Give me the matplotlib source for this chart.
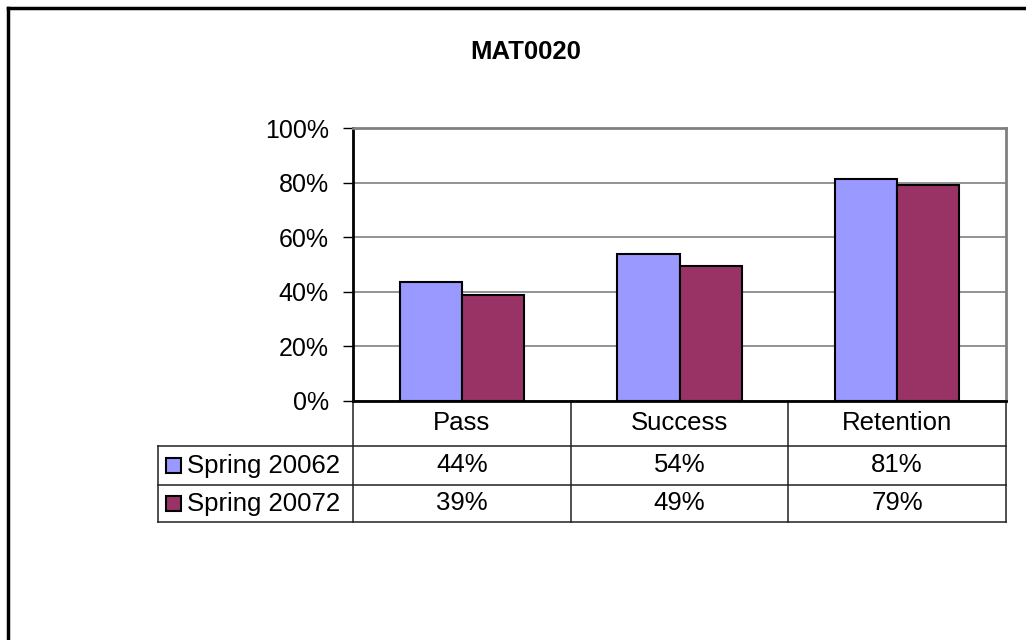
import matplotlib
matplotlib.use('Agg')
import matplotlib.pyplot as plt
from matplotlib.lines import Line2D
from matplotlib.patches import Rectangle
import numpy as np

plt.rcParams['font.family'] = ['Liberation Sans', 'DejaVu Sans']

title = 'MAT0020'
categories = ['Pass', 'Success', 'Retention']
series_names = ['Spring 20062', 'Spring 20072']
spring_20062 = [0.436, 0.538, 0.813]
spring_20072 = [0.388, 0.494, 0.791]
table_20062 = ['44%', '54%', '81%']
table_20072 = ['39%', '49%', '79%']
colors = ['#9999FF', '#993366']

W, H = 1026, 640
fig = plt.figure(figsize=(W / 100, H / 100), dpi=100)

# outer chart border (only top/left visible in the crop)
fig.add_artist(Line2D([8 / W, 8 / W], [0, 1 - 8 / H], color='black', lw=2.5))
fig.add_artist(Line2D([8 / W, 1], [1 - 8 / H, 1 - 8 / H], color='black', lw=2.5))

# plot area in pixels: x 353-1006, y 128-401
L, R, T, B = 353, 1006, 128, 401
ax = fig.add_axes([L / W, 1 - B / H, (R - L) / W, (B - T) / H])

x = np.arange(len(categories))
bw = 1 / 3.5
ax.bar(x - bw / 2, spring_20062, bw, color=colors[0], edgecolor='black', lw=1.5, zorder=3)
ax.bar(x + bw / 2, spring_20072, bw, color=colors[1], edgecolor='black', lw=1.5, zorder=3)

ax.set_xlim(-0.5, 2.5)
ax.set_ylim(0, 1)
ticks = np.arange(0, 1.01, 0.2)
ax.set_yticks(ticks)
ax.set_yticklabels([f'{int(round(v * 100))}%' for v in ticks], fontsize=18)
ax.tick_params(axis='y', length=7.5, width=1, direction='out', pad=10)
ax.set_xticks([])
ax.yaxis.grid(True, color='#808080', lw=1.2, zorder=0)
ax.set_axisbelow(True)
for side in ['top', 'right']:
    ax.spines[side].set_color('#808080')
    ax.spines[side].set_linewidth(2)
ax.spines['left'].set_linewidth(2)
ax.spines['bottom'].set_linewidth(2)

fig.text(526 / W, 1 - 52 / H, title, ha='center', va='center', fontsize=18.5, fontweight='bold')

# data table below the plot area
ph = B - T
y_head = -(446 - B) / ph
y_r1 = -(485 - B) / ph
y_r2 = -(522 - B) / ph
px = 3 / (R - L)  # data units per pixel along x
x_leg = -0.5 - (L - 158) * px
kw = dict(color='#202020', lw=1.1, clip_on=False, transform=ax.transData)
for xb in np.arange(-0.5, 2.6, 1.0):
    ax.add_line(Line2D([xb, xb], [0, y_r2], **kw))
for yy in [y_head, y_r1, y_r2]:
    ax.add_line(Line2D([x_leg, 2.5], [yy, yy], **kw))
ax.add_line(Line2D([x_leg, x_leg], [y_head, y_r2], **kw))

for i, c in enumerate(categories):
    ax.text(i, y_head / 2, c, ha='center', va='center', fontsize=18.5, clip_on=False)
    ax.text(i, (y_head + y_r1) / 2, table_20062[i], ha='center', va='center', fontsize=18.5, clip_on=False)
    ax.text(i, (y_r1 + y_r2) / 2, table_20072[i], ha='center', va='center', fontsize=18.5, clip_on=False)

# legend keys inside the table
for j, (name, ymid) in enumerate(zip(series_names, [(y_head + y_r1) / 2, (y_r1 + y_r2) / 2])):
    kx = -0.5 - (L - 166) * px
    ks = 15 * px
    khy = 15 / ph
    ax.add_patch(Rectangle((kx, ymid - khy / 2), ks, khy, facecolor=colors[j],
                           edgecolor='black', lw=1.5, clip_on=False))
    ax.text(kx + ks + 6 * px, ymid, name, ha='left', va='center', fontsize=18.5, clip_on=False)

fig.savefig('out.png', dpi=100)
